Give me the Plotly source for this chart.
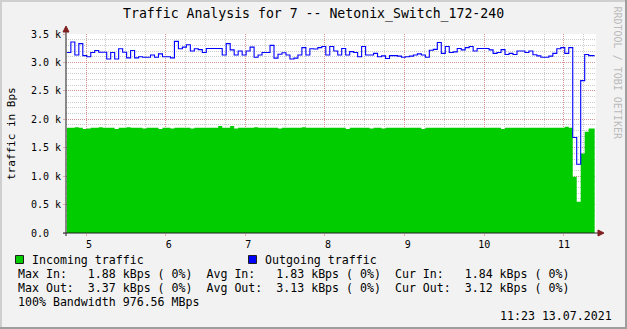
import plotly.graph_objects as go

# ---------------- data (kBps, 3-minute steps starting 04:45.6) ----------------
t_start = 4.76          # hours
t_step = 0.05           # 3 minutes
t_end = 11.385          # 11:23

incoming = [
    1.85, 1.85, 1.86, 1.85, 1.83, 1.84, 1.85, 1.85, 1.86, 1.85,
    1.85, 1.85, 1.83, 1.85, 1.85, 1.86, 1.85, 1.85, 1.85, 1.84,
    1.85, 1.85, 1.85, 1.83, 1.85, 1.85, 1.84, 1.85, 1.85, 1.85,
    1.85, 1.84, 1.85, 1.85, 1.85, 1.85, 1.85, 1.85, 1.88, 1.85,
    1.85, 1.88, 1.84, 1.85, 1.85, 1.85, 1.85, 1.86, 1.85, 1.85,
    1.85, 1.85, 1.85, 1.84, 1.85, 1.85, 1.85, 1.85, 1.85, 1.86,
    1.85, 1.85, 1.85, 1.85, 1.85, 1.85, 1.85, 1.85, 1.85, 1.85,
    1.83, 1.85, 1.85, 1.85, 1.85, 1.85, 1.84, 1.85, 1.85, 1.84,
    1.85, 1.85, 1.85, 1.85, 1.85, 1.85, 1.85, 1.85, 1.85, 1.83,
    1.85, 1.85, 1.85, 1.85, 1.85, 1.85, 1.85, 1.85, 1.85, 1.85,
    1.85, 1.85, 1.85, 1.85, 1.85, 1.85, 1.85, 1.85, 1.85, 1.83,
    1.85, 1.85, 1.85, 1.85, 1.85, 1.85, 1.85, 1.85, 1.85, 1.85,
    1.85, 1.85, 1.85, 1.85, 1.85, 1.87, 1.85, 0.99, 0.55, 1.40,
    1.78, 1.84,
]

outgoing = [
    3.175, 3.36, 3.13, 3.33, 3.12, 3.10, 3.175, 3.21, 3.18, 3.18,
    3.06, 3.175, 3.06, 3.24, 3.18, 3.08, 3.21, 3.08, 3.10, 3.09,
    3.09, 3.13, 3.09, 3.15, 3.10, 3.10, 3.08, 3.37, 3.24, 3.27,
    3.31, 3.20, 3.24, 3.225, 3.175, 3.245, 3.245, 3.245, 3.245, 3.13,
    3.33, 3.22, 3.13, 3.20, 3.13, 3.20, 3.27, 3.09, 3.13, 3.175,
    3.175, 3.30, 3.075, 3.145, 3.17, 3.13, 3.06, 3.075, 3.13, 3.26,
    3.13, 3.24, 3.235, 3.26, 3.28, 3.13, 3.28, 3.20, 3.13, 3.245,
    3.13, 3.19, 3.175, 3.10, 3.28, 3.13, 3.13, 3.16, 3.10, 3.115,
    3.07, 3.12, 3.12, 3.11, 3.09, 3.10, 3.11, 3.13, 3.15, 3.13,
    3.09, 3.215, 3.23, 3.35, 3.16, 3.28, 3.175, 3.185, 3.245, 3.22,
    3.26, 3.28, 3.20, 3.245, 3.245, 3.245, 3.22, 3.16, 3.175, 3.225,
    3.14, 3.16, 3.14, 3.20, 3.20, 3.175, 3.20, 3.135, 3.115, 3.09,
    3.09, 3.11, 3.16, 3.24, 3.26, 3.16, 3.26, 1.68, 1.21, 2.68,
    3.14, 3.12,
]

x_tickvals = [5, 6, 7, 8, 9, 10, 11]
x_ticktext = ["\u00a05", "\u00a06", "\u00a07", "\u00a08", "\u00a09", "10", "11"]
y_tickvals = [0.0, 0.5, 1.0, 1.5, 2.0, 2.5, 3.0, 3.5]
y_ticktext = ["0.0\u00a0\u00a0", "0.5 k", "1.0 k", "1.5 k", "2.0 k", "2.5 k", "3.0 k", "3.5 k"]

title_text = "Traffic Analysis for 7 -- Netonix_Switch_172-240"
row_in = "Max In:   1.88 kBps ( 0%)  Avg In:   1.83 kBps ( 0%)  Cur In:   1.84 kBps ( 0%)"
row_out = "Max Out:  3.37 kBps ( 0%)  Avg Out:  3.13 kBps ( 0%)  Cur Out:  3.12 kBps ( 0%)"
row_bw = "100% Bandwidth 976.56 MBps"
stamp = "11:23 13.07.2021"

# ---------------- build ----------------
times = [t_start + t_step * i for i in range(len(outgoing))] + [t_end]
inc_y = incoming + [incoming[-1]]
out_y = outgoing + [outgoing[-1]]

W, H = 627, 329
L, R, T, B = 66, 31, 34, 96
PW, PH = W - L - R, H - T - B
MONO = "DejaVu Sans Mono"
BG = "#F2F2F2"
GRID = "rgba(143,143,143,0.45)"
MGRID = "rgba(222,79,79,0.45)"
AXIS = "#1F1F1F"
ARROW = "#801F1F"


def fx(px):
    return (px - L) / PW


def fy(py):
    return (H - B - py) / PH


def nb(s):
    return s.replace(" ", "\u00a0")


fig = go.Figure()
fig.add_trace(go.Scatter(
    x=times, y=inc_y, mode="lines",
    line=dict(shape="hv", width=0, color="#00CC00"),
    fill="tozeroy", fillcolor="#00CC00", hoverinfo="skip"))
fig.add_trace(go.Scatter(
    x=times, y=out_y, mode="lines",
    line=dict(shape="hv", width=1.1, color="#0000FF"), hoverinfo="skip"))

fig.update_layout(
    width=W, height=H, margin=dict(l=L, r=R, t=T, b=B, pad=0),
    paper_bgcolor=BG, plot_bgcolor="#FFFFFF", showlegend=False,
    font=dict(family=MONO, size=10, color="#000000"),
)
fig.update_xaxes(
    range=[4.749, 11.402], tickmode="array", tickvals=x_tickvals, ticktext=x_ticktext,
    ticks="outside", ticklen=2, tickcolor=MGRID, tickfont=dict(family=MONO, size=10),
    showgrid=True, gridcolor=MGRID, griddash="1px,1px", gridwidth=1,
    minor=dict(tickmode="linear", tick0=5, dtick=0.25, showgrid=True, gridcolor=GRID,
               griddash="1px,1px", ticks=""),
    zeroline=False, showline=False,
)
fig.update_yaxes(
    range=[0, 3.5], tickmode="array", tickvals=y_tickvals, ticktext=y_ticktext,
    ticks="outside", ticklen=2, tickcolor=MGRID, tickfont=dict(family=MONO, size=10),
    showgrid=True, gridcolor=MGRID, griddash="1px,1px", gridwidth=1,
    minor=dict(tickmode="linear", tick0=0, dtick=0.1, showgrid=True, gridcolor=GRID,
               griddash="1px,1px", ticks=""),
    zeroline=False, showline=False,
)

shapes = []
# 3D frame
shapes.append(dict(type="rect", xref="paper", yref="paper", x0=fx(0), x1=fx(W), y0=fy(0), y1=fy(2),
                   fillcolor="#CFCFCF", line=dict(width=0), layer="above"))
shapes.append(dict(type="rect", xref="paper", yref="paper", x0=fx(0), x1=fx(2), y0=fy(0), y1=fy(H),
                   fillcolor="#CFCFCF", line=dict(width=0), layer="above"))
shapes.append(dict(type="rect", xref="paper", yref="paper", x0=fx(W - 2), x1=fx(W), y0=fy(0), y1=fy(H),
                   fillcolor="#9E9E9E", line=dict(width=0), layer="above"))
shapes.append(dict(type="rect", xref="paper", yref="paper", x0=fx(0), x1=fx(W), y0=fy(H - 2), y1=fy(H),
                   fillcolor="#9E9E9E", line=dict(width=0), layer="above"))
# axes
shapes.append(dict(type="line", xref="paper", yref="paper", x0=fx(66), x1=fx(66), y0=fy(236), y1=fy(29),
                   line=dict(color=AXIS, width=1), layer="above"))
shapes.append(dict(type="line", xref="paper", yref="paper", x0=fx(63), x1=fx(599), y0=fy(233), y1=fy(233),
                   line=dict(color=AXIS, width=1), layer="above"))
# arrows
shapes.append(dict(type="path", xref="paper", yref="paper",
                   path=f"M {fx(63)} {fy(32)} L {fx(69)} {fy(32)} L {fx(66)} {fy(26)} Z",
                   fillcolor=ARROW, line=dict(color=ARROW, width=1), layer="above"))
shapes.append(dict(type="path", xref="paper", yref="paper",
                   path=f"M {fx(598)} {fy(230)} L {fx(598)} {fy(236)} L {fx(604)} {fy(233)} Z",
                   fillcolor=ARROW, line=dict(color=ARROW, width=1), layer="above"))
# legend swatches
shapes.append(dict(type="rect", xref="paper", yref="paper", x0=fx(15.5), x1=fx(23.5), y0=fy(263.5), y1=fy(255.5),
                   fillcolor="#00CC00", line=dict(color=AXIS, width=1)))
shapes.append(dict(type="rect", xref="paper", yref="paper", x0=fx(248.5), x1=fx(256.5), y0=fy(263.5), y1=fy(255.5),
                   fillcolor="#0000FF", line=dict(color=AXIS, width=1)))
fig.update_layout(shapes=shapes)

ann = []


def text(s, x, y, size=11.6, xanchor="left", color="#000000", angle=0, yanchor="middle"):
    ann.append(dict(text=nb(s), x=fx(x), y=fy(y), xref="paper", yref="paper", showarrow=False,
                    xanchor=xanchor, yanchor=yanchor, textangle=angle,
                    font=dict(family=MONO, size=size, color=color)))


text(title_text, 313, 14, size=13.2, xanchor="center")
text("traffic in Bps", 11, 134, size=11, xanchor="center", angle=-90)
text("RRDTOOL / TOBI OETIKER", 617, 4, size=10, xanchor="center", angle=90, color="#BBBBBB", yanchor="top")
text("Incoming traffic", 30, 259.5)
text("Outgoing traffic", 263, 259.5)
text(row_in, 16, 273.5)
text(row_out, 16, 287.5)
text(row_bw, 16, 301.5)
text(stamp, 498, 315.5)
fig.update_layout(annotations=ann)

fig.write_html("out.html")
